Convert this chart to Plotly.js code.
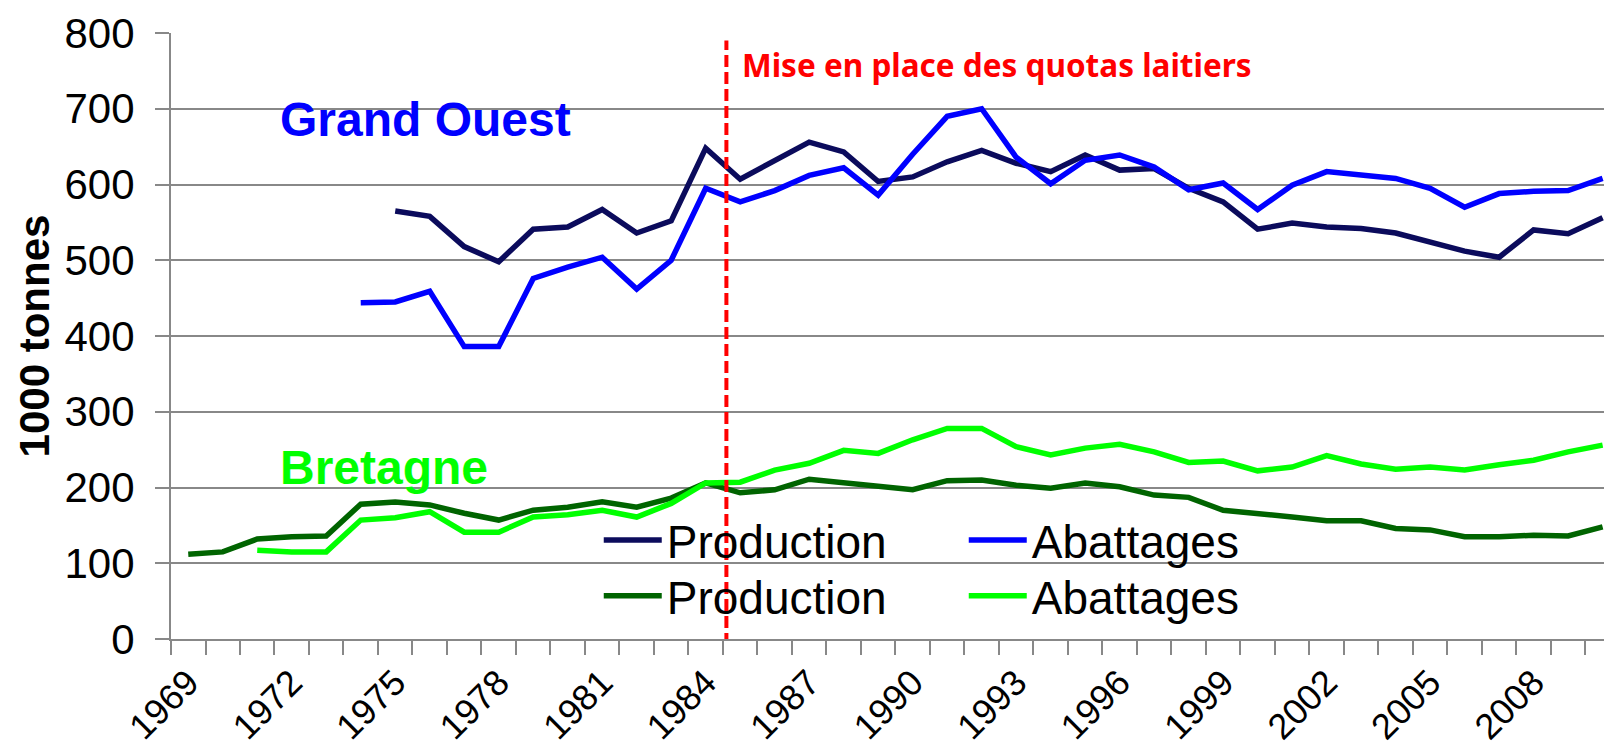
<!DOCTYPE html>
<html>
<head>
<meta charset="utf-8">
<script src="https://cdn.plot.ly/plotly-3.0.1.min.js"></script>
<style>
  html, body { margin: 0; padding: 0; background: #fff; }
  #chart { width: 1604px; height: 754px; }
</style>
</head>
<body>
<div id="chart"></div>
<script>
// Production et abattages de gros bovins (1000 tonnes)
const years = [];
for (let y = 1969; y <= 2010; y++) years.push(y);

// Grand Ouest - production (à partir de 1975)
const goProdYears = years.filter(y => y >= 1975);
const goProd = [565, 558, 518, 498, 541, 544, 567, 536, 552, 648,
                607, 632, 656, 643, 604, 610, 630, 645, 628, 617,
                639, 619, 621, 595, 577, 541, 549, 544, 542, 536,
                524, 512, 504, 540, 535, 556];

// Grand Ouest - abattages (à partir de 1974)
const goAbatYears = years.filter(y => y >= 1974);
const goAbat = [444, 445, 459, 386, 386, 476, 491, 504, 462, 500,
                595, 577, 592, 612, 622, 586, 640, 690, 700, 636,
                601, 632, 639, 623, 593, 602, 567, 599, 617, 612,
                608, 595, 570, 588, 591, 592, 608];

// Bretagne - production (à partir de 1969)
const brProd = [112, 115, 132, 135, 136, 178, 181, 177, 166, 157,
                170, 174, 181, 174, 186, 206, 193, 197, 211, 206,
                201, 197, 209, 210, 203, 199, 206, 201, 190, 187,
                170, 166, 161, 156, 156, 146, 144, 135, 135, 137,
                136, 148];

// Bretagne - abattages (à partir de 1971)
const brAbatYears = years.filter(y => y >= 1971);
const brAbat = [117, 115, 115, 157, 160, 168, 141, 141, 161, 164,
                170, 161, 179, 206, 207, 223, 232, 249, 245, 263,
                278, 278, 254, 243, 252, 257, 247, 233, 235, 222,
                227, 242, 231, 224, 227, 223, 230, 236, 247, 256];

const tickYears = [1969, 1972, 1975, 1978, 1981, 1984, 1987, 1990, 1993, 1996, 1999, 2002, 2005, 2008];
const quotaYear = 1984.6;

const FONT = 'Arial, "Liberation Sans", sans-serif';
const GRID = '#888888';

const traces = [
  { x: goProdYears, y: goProd, name: 'Production', mode: 'lines',
    line: { color: '#0b0b5c', width: 5.5 }, legend: 'legend' },
  { x: goAbatYears, y: goAbat, name: 'Abattages', mode: 'lines',
    line: { color: '#0000ff', width: 5.5 }, legend: 'legend' },
  { x: years, y: brProd, name: 'Production', mode: 'lines',
    line: { color: '#006400', width: 5.5 }, legend: 'legend2' },
  { x: brAbatYears, y: brAbat, name: 'Abattages', mode: 'lines',
    line: { color: '#00ff00', width: 5.5 }, legend: 'legend2' }
];

const legendBase = {
  orientation: 'h',
  xanchor: 'left',
  yanchor: 'middle',
  bgcolor: 'rgba(0,0,0,0)',
  borderwidth: 0,
  font: { family: FONT, size: 46, color: '#000' },
  itemwidth: 58,
  entrywidth: 292,
  entrywidthmode: 'pixels',
  traceorder: 'normal'
};

const layout = {
  width: 1604,
  height: 754,
  margin: { l: 171, r: 0, t: 33, b: 115 },
  paper_bgcolor: '#fff',
  plot_bgcolor: '#fff',
  font: { family: FONT, color: '#000' },
  showlegend: true,
  legend: { ...legendBase, x: 0.2985, y: 0.163 },
  legend2: { ...legendBase, x: 0.2985, y: 0.071 },
  xaxis: {
    range: [1968.5, 2010.04],
    tickmode: 'array',
    tickvals: tickYears,
    ticktext: tickYears.map(String),
    tickangle: -45,
    ticks: '',
    ticklabelstandoff: 6,
    tickfont: { family: FONT, size: 36, color: '#000' },
    showgrid: false,
    zeroline: false,
    showline: true,
    linecolor: GRID,
    linewidth: 2,
    minor: { tick0: 1968.5, dtick: 1, ticks: 'outside', ticklen: 14, tickwidth: 2, tickcolor: GRID, showgrid: false }
  },
  yaxis: {
    range: [0, 800],
    dtick: 100,
    ticks: 'outside',
    ticklen: 14,
    tickwidth: 2,
    tickcolor: GRID,
    ticklabelstandoff: 12,
    tickfont: { family: FONT, size: 42, color: '#000' },
    showgrid: true,
    gridcolor: GRID,
    gridwidth: 2,
    zeroline: false,
    showline: true,
    linecolor: GRID,
    linewidth: 2,
    title: { text: '<b>1000 tonnes</b>', font: { family: FONT, size: 42, color: '#000' }, standoff: 2 }
  },
  shapes: [
    { type: 'line', xref: 'x', yref: 'y', x0: quotaYear, x1: quotaYear, y0: -8, y1: 790,
      line: { color: '#ff0000', width: 4, dash: '12px,5px' } }
  ],
  annotations: [
    { xref: 'x', yref: 'y', x: 1971.6, y: 686, xanchor: 'left', yanchor: 'middle', showarrow: false,
      text: '<b>Grand Ouest</b>', font: { family: FONT, size: 48, color: '#0000ff' } },
    { xref: 'x', yref: 'y', x: 1971.6, y: 226, xanchor: 'left', yanchor: 'middle', showarrow: false,
      text: '<b>Bretagne</b>', font: { family: FONT, size: 48, color: '#00ff00' } },
    { xref: 'x', yref: 'y', x: 1985.0, y: 759, xanchor: 'left', yanchor: 'middle', showarrow: false,
      text: '<b>Mise en place des quotas laitiers</b>', font: { family: '"Noto Sans", sans-serif', size: 31.5, color: '#ff0000' } }
  ]
};

Plotly.newPlot('chart', traces, layout, { staticPlot: true, displayModeBar: false });
</script>
</body>
</html>
